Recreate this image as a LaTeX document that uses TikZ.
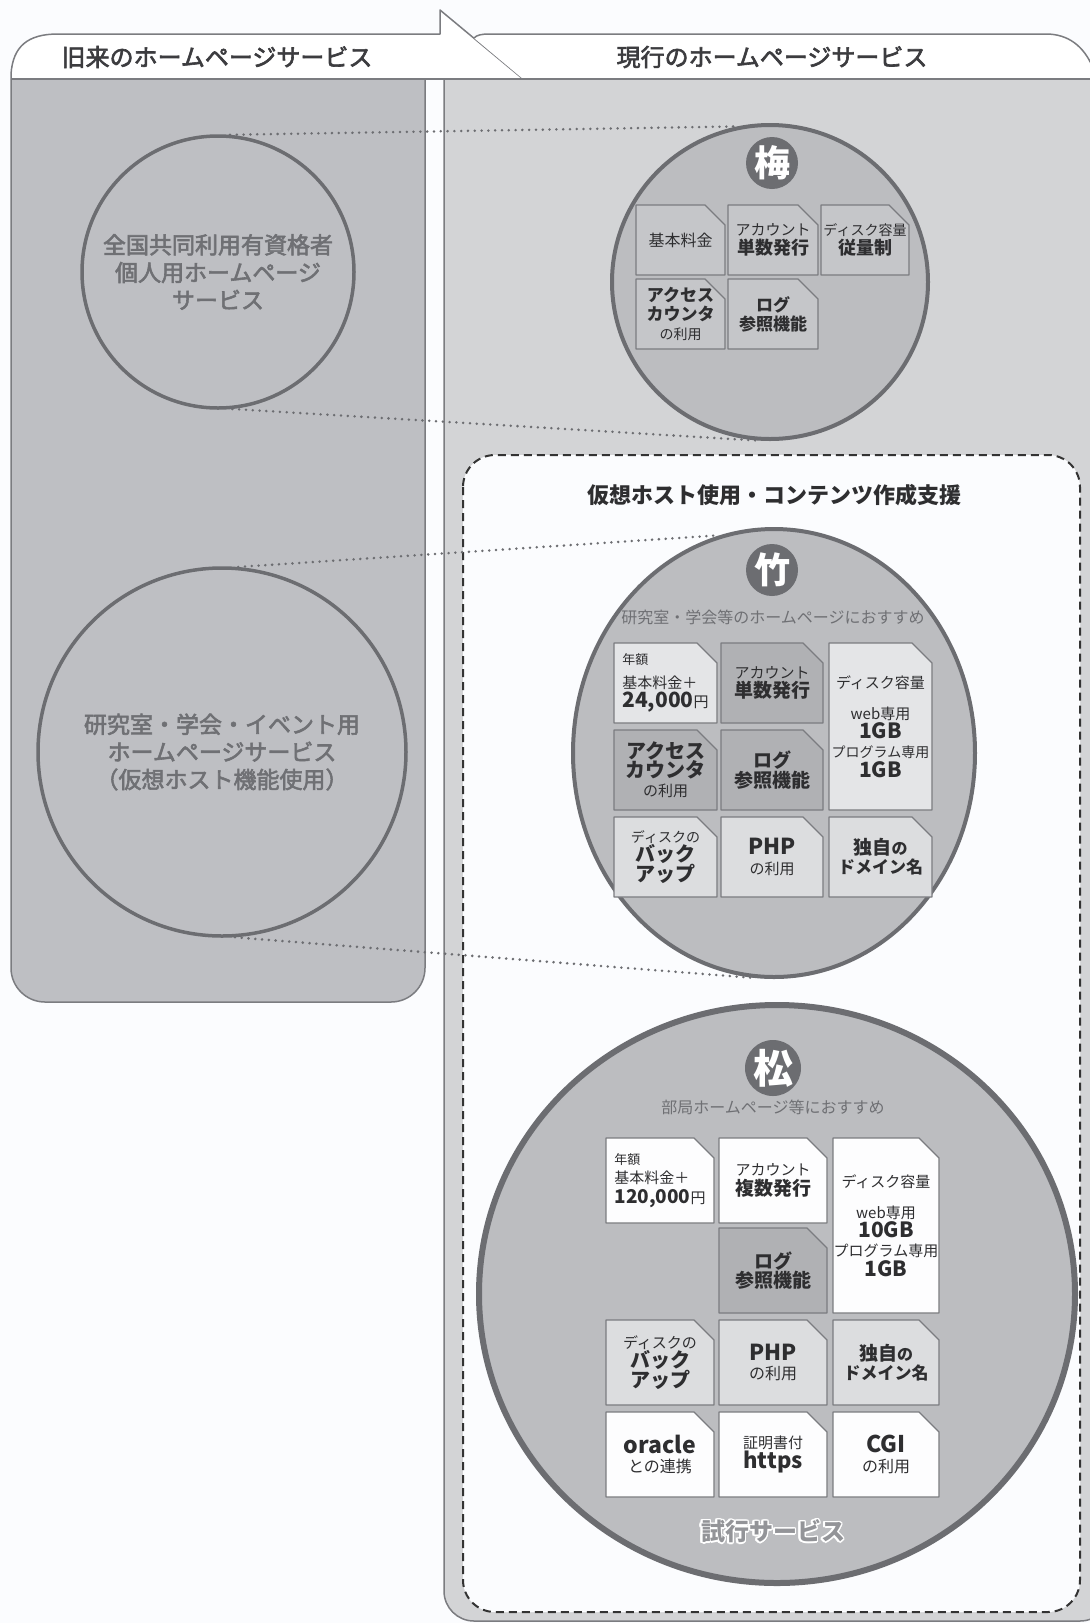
\documentclass[tikz,border=0pt]{standalone}
\usepackage{fontspec}
\setmainfont{Noto Sans CJK JP}
\newfontfamily\medfont[FakeBold=2.5]{Noto Sans CJK JP}
\usepackage{xcolor}
\usepackage{tikz}
\usetikzlibrary{shapes.geometric}
\usepackage{contour}
\contourlength{1.4pt}
\contournumber{20}
\definecolor{paper}{HTML}{FBFCFE}
\definecolor{oldbg}{HTML}{BEBFC3}
\definecolor{newbg}{HTML}{D3D4D6}
\definecolor{frame}{HTML}{7B7C80}
\definecolor{ring}{HTML}{6C6D71}
\definecolor{disc}{HTML}{BCBDC0}
\definecolor{umecard}{HTML}{C5C6C9}
\definecolor{cardmid}{HTML}{B0B1B4}
\definecolor{takelt}{HTML}{E4E5E7}
\definecolor{takepale}{HTML}{DCDDDF}
\definecolor{cardwh}{HTML}{FDFDFE}
\definecolor{ink}{HTML}{2E2E30}
\definecolor{headink}{HTML}{3C3C3F}
\definecolor{greytxt}{HTML}{6F7074}
\definecolor{trialgrey}{HTML}{939498}
\newcommand{\fsz}[1]{\fontsize{#1}{#1}\selectfont\baselineskip=1.2\baselineskip}
% card with a cut top-right corner: [node opts]{name}{x}{y}{w}{h}{fill}{text}
\newcommand{\card}[8][]{%
  \draw[cardbox, fill=#7] (#3,#4) -- ++({#5-20},0) -- ++(20,20) -- ++(0,{#6-20}) -- ++({-#5},0) -- cycle;
  \node[cardtxt, #1] (#2) at ({#3+#5/2},{#4+#6/2}) {#8};
}
\tikzset{
  panelframe/.style={draw=frame, line width=1.5pt},
  tabshape/.style={draw=frame, fill=white, line width=1.5pt, line join=round},
  headtxt/.style={text=headink, font=\fsz{24}\medfont},
  titletxt/.style={text=ink, font=\fsz{22}\bfseries},
  oldring/.style={circle, draw=ring, line width=3.5pt, inner sep=0pt, align=center, text=greytxt, font=\fsz{23}\medfont},
  plandisc/.style={ellipse, draw=ring, fill=disc, line width=4pt, inner sep=0pt},
  badge/.style={circle, fill=ring, text=white, inner sep=0pt, minimum size=52pt, font=\fsz{36}\bfseries},
  subtxt/.style={text=greytxt, font=\fsz{16}},
  cardbox/.style={draw=frame, line width=1.3pt, line join=round},
  cardtxt/.style={align=center, text=ink, inner sep=0pt, font=\fsz{16}},
  linkdots/.style={draw=ring, line width=2.8pt, dash pattern=on 0pt off 6.8pt, line cap=round},
  trialbox/.style={draw=black!80, line width=2pt, dash pattern=on 8pt off 5pt, fill=paper, rounded corners=32pt},
  trialtxt/.style={text=trialgrey, font=\fsz{24}\bfseries},
}
\begin{document}
\begin{tikzpicture}[x=1pt, y=-1pt]
  \useasboundingbox (0,0) rectangle (1090,1623);
  \fill[paper] (0,0) rectangle (1090,1623);
  % panels
  \draw[panelframe, fill=oldbg, rounded corners=34pt] (11,79) -- (11,1002) -- (425,1002) -- (425,79);
  \draw[panelframe, fill=newbg, rounded corners=30pt] (444,79) -- (444,1621) -- (1110,1621) -- (1110,79);
  % header tabs
  \draw[tabshape] (11,79) -- (11,74) .. controls (13,46) and (28,34) .. (58,34) -- (440,34) -- (440,10) -- (523,79);
  \draw[tabshape] (474,38) .. controls (477,35) and (481,34) .. (490,34) -- (1046,34) .. controls (1068,34) and (1084,46) .. (1093,68) -- (1093,79) -- (523,79);
  \draw[panelframe, line width=2pt] (11,79) -- (1090,79);
  \node[headtxt] (oldhead) at (217,57) {旧来のホームページサービス};
  \node[headtxt] (newhead) at (772,57) {現行のホームページサービス};
  % trial area
  \draw[trialbox] (463,455) rectangle (1080,1612);
  \node[titletxt] (trialhead) at (774,495) {仮想ホスト使用・コンテンツ作成支援};
  % old services
  \node[oldring, minimum size=272pt] (zenkoku) at (218,272) {全国共同利用有資格者\\個人用ホームページ\\サービス};
  \node[oldring, minimum size=368pt] (kenkyu) at (222,752) {研究室・学会・イベント用\\ホームページサービス\\（仮想ホスト機能使用）};
  % plans
  \node[plandisc, minimum width=316pt, minimum height=314pt] (ume) at (770,282) {};
  \node[plandisc, minimum width=402pt, minimum height=448pt] (take) at (774,753) {};
  \node[plandisc, minimum width=596pt, minimum height=578pt, line width=6pt] (matsu) at (777,1294) {};
  \draw[linkdots] (zenkoku.85) -- (ume.102);
  \draw[linkdots] (zenkoku.276) -- (ume.266);
  \draw[linkdots] (kenkyu.85) -- (take.104);
  \draw[linkdots] (kenkyu.274) -- (take.265);
  % ume
  \node[badge] (umemark) at (772,163) {梅};
  \card{ufee}{636}{205}{89}{70}{umecard}{\fsz{16}基本料金}
  \card{uacct}{728}{205}{90}{70}{umecard}{{\fsz{15}アカウント}\\{\fsz{18}\bfseries 単数発行}}
  \card{udisk}{821}{205}{88}{70}{umecard}{{\fsz{14}ディスク容量}\\{\fsz{18}\bfseries 従量制}}
  \card{ucount}{636}{279}{89}{70}{umecard}{{\fsz{17}\bfseries アクセス}\\{\fsz{17}\bfseries カウンタ}\\{\fsz{14}の利用}}
  \card{ulog}{728}{279}{90}{70}{umecard}{{\fsz{17}\bfseries ログ}\\{\fsz{17}\bfseries 参照機能}}
  % take
  \node[badge] (takemark) at (772,570) {竹};
  \node[subtxt] (takesub) at (773,617) {研究室・学会等のホームページにおすすめ};
  \card[align=left]{tfee}{614}{643}{103}{80}{takelt}{{\fsz{13}年額}\\[4pt]{\fsz{15}基本料金＋}\\{\fsz{21}\bfseries 24,000}{\fsz{15}円}}
  \card{tacct}{721}{643}{102}{80}{cardmid}{{\fsz{15}アカウント}\\{\fsz{19}\bfseries 単数発行}}
  \card{tdisk}{829}{643}{103}{167}{takelt}{{\fsz{15}ディスク容量}\\[12pt]{\fsz{15}web専用}\\{\fsz{21}\bfseries 1GB}\\{\fsz{14}プログラム専用}\\{\fsz{21}\bfseries 1GB}}
  \card{tcount}{614}{730}{103}{80}{cardmid}{{\fsz{20}\bfseries アクセス}\\{\fsz{20}\bfseries カウンタ}\\{\fsz{15}の利用}}
  \card{tlog}{721}{730}{102}{80}{cardmid}{{\fsz{19}\bfseries ログ}\\{\fsz{19}\bfseries 参照機能}}
  \card{tback}{614}{817}{103}{80}{takepale}{{\fsz{14}ディスクの}\\{\fsz{20}\bfseries バック}\\{\fsz{20}\bfseries アップ}}
  \card{tphp}{721}{817}{102}{80}{takepale}{{\fsz{22}\bfseries PHP}\\{\fsz{15}の利用}}
  \card{tdomain}{829}{817}{103}{80}{takepale}{{\fsz{19}\bfseries 独自}{\fsz{16}\bfseries の}\\{\fsz{17}\bfseries ドメイン名}}
  % matsu
  \node[badge, minimum size=56pt, font=\fsz{40}\bfseries] (matsumark) at (773,1068) {松};
  \node[subtxt] (matsusub) at (773,1107) {部局ホームページ等におすすめ};
  \card[align=left]{mfee}{606}{1138}{108}{85}{cardwh}{{\fsz{13}年額}\\{\fsz{15}基本料金＋}\\{\fsz{19}\bfseries 120,000}{\fsz{15}円}}
  \card{macct}{719}{1138}{108}{85}{cardwh}{{\fsz{15}アカウント}\\{\fsz{19}\bfseries 複数発行}}
  \card{mdisk}{833}{1138}{106}{175}{cardwh}{{\fsz{15}ディスク容量}\\[12pt]{\fsz{15}web専用}\\{\fsz{21}\bfseries 10GB}\\{\fsz{15}プログラム専用}\\{\fsz{21}\bfseries 1GB}}
  \card{mlog}{719}{1228}{108}{85}{cardmid}{{\fsz{19}\bfseries ログ}\\{\fsz{19}\bfseries 参照機能}}
  \card{mback}{606}{1320}{108}{85}{takepale}{{\fsz{15}ディスクの}\\{\fsz{20}\bfseries バック}\\{\fsz{20}\bfseries アップ}}
  \card{mphp}{719}{1320}{108}{85}{takepale}{{\fsz{22}\bfseries PHP}\\{\fsz{16}の利用}}
  \card{mdomain}{833}{1320}{106}{85}{takepale}{{\fsz{19}\bfseries 独自}{\fsz{16}\bfseries の}\\{\fsz{17}\bfseries ドメイン名}}
  \card{moracle}{606}{1412}{108}{85}{cardwh}{{\fsz{23}\bfseries oracle}\\{\fsz{16}との連携}}
  \card{mhttps}{719}{1412}{108}{85}{cardwh}{{\fsz{15}証明書付}\\{\fsz{22}\bfseries https}}
  \card{mcgi}{833}{1412}{106}{85}{cardwh}{{\fsz{23}\bfseries CGI}\\{\fsz{16}の利用}}
  \node[trialtxt] (trialmark) at (773,1532) {\contour{white}{試行サービス}};
\end{tikzpicture}
\end{document}
